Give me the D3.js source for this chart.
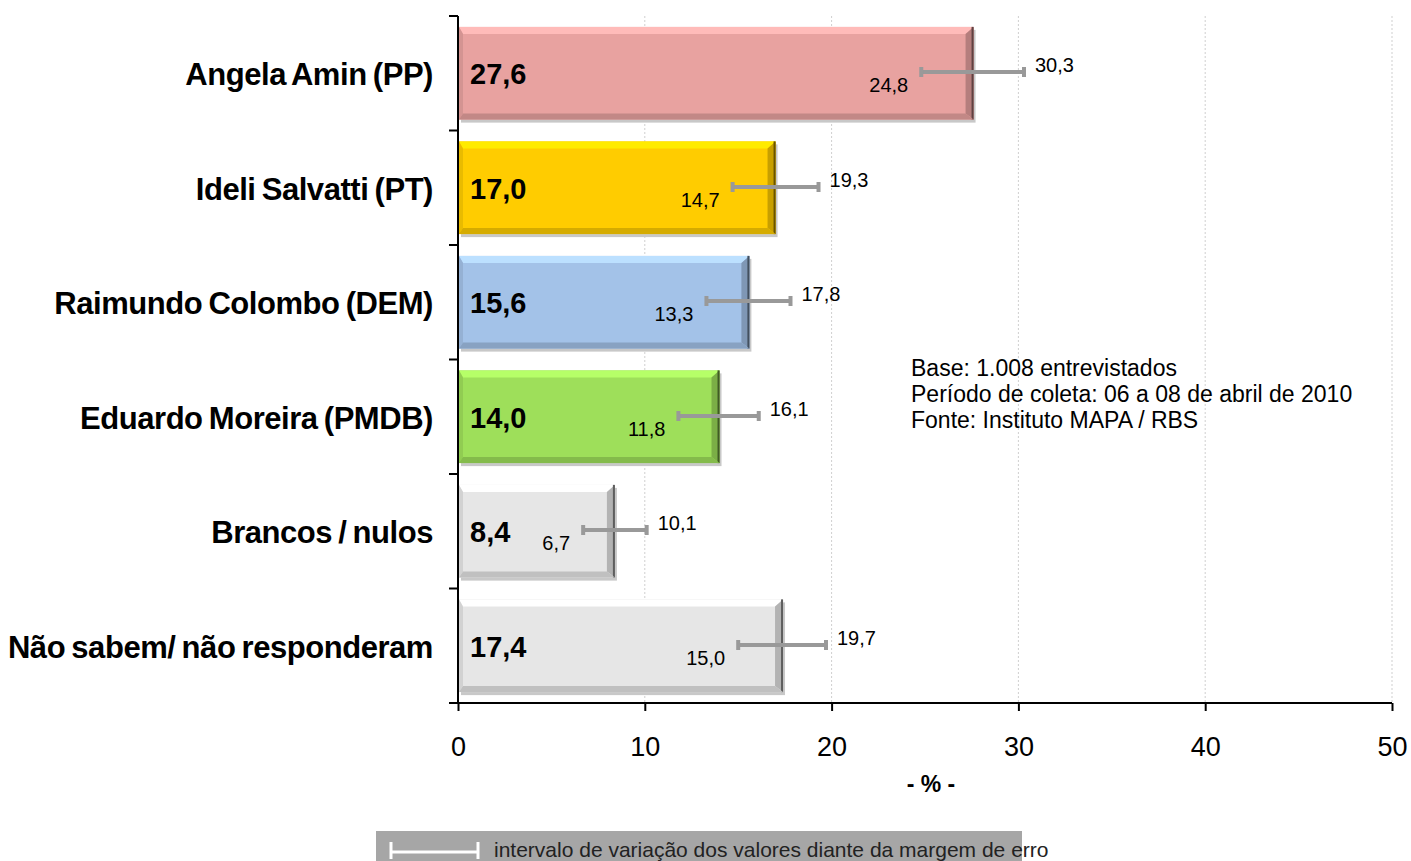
<!DOCTYPE html>
<html>
<head>
<meta charset="utf-8">
<script src="https://cdn.jsdelivr.net/npm/d3@7"></script>
<style>
  body { margin: 0; background: #fff; }
  text { font-family: "Liberation Sans", Arial, sans-serif; }
</style>
</head>
<body>
<svg id="chart" width="1411" height="861"></svg>
<script>
// chart data
let categories = ['Angela Amin (PP)', 'Ideli Salvatti (PT)', 'Raimundo Colombo (DEM)',
    'Eduardo Moreira (PMDB)', 'Brancos / nulos', 'Não sabem/ não responderam'];
let values = [27.6, 17.0, 15.6, 14.0, 8.4, 17.4];
let lows = [24.8, 14.7, 13.3, 11.8, 6.7, 15.0];
let highs = [30.3, 19.3, 17.8, 16.1, 10.1, 19.7];
let colors = ['#E8A2A0', '#FFCC00', '#A3C2E8', '#9EDF5A', '#E6E6E6', '#E6E6E6'];
let xTicks = [0, 10, 20, 30, 40, 50];
let notes = ['Base: 1.008 entrevistados', 'Período de coleta: 06 a 08 de abril de 2010',
    'Fonte: Instituto MAPA / RBS'];

let svg = d3.select('#chart');
let fmt = v => v.toFixed(1).replace('.', ',');

let x = d3.scaleLinear().domain([0, 50]).range([458, 1392]);
let y = d3.scaleBand().domain(categories).range([16, 703]).paddingInner(0.19).paddingOuter(0.095);
let yb = d3.scaleBand().domain(categories).range([16, 703]); // full bands for ticks

// dotted gridlines
svg.append('g').selectAll('line')
    .data(xTicks.slice(1))
    .join('line')
    .attr('x1', d => x(d)).attr('x2', d => x(d))
    .attr('y1', 16).attr('y2', 703)
    .attr('stroke', '#cfcfcf').attr('stroke-width', 1)
    .attr('stroke-dasharray', '2,2');

// bars with a bevelled look
let bars = svg.append('g').selectAll('g')
    .data(categories)
    .join('g');

bars.each(function(c, i) {
    let g = d3.select(this);
    let x0 = x(0) + 1, w = x(values[i]) - x(0) - 1;
    let y0 = y(c), h = y.bandwidth();
    let base = d3.color(colors[i]);
    // shadow
    g.append('rect').attr('x', x0 + 2).attr('y', y0 + 3).attr('width', w).attr('height', h)
        .attr('fill', '#c8c8c8');
    g.append('rect').attr('x', x0).attr('y', y0).attr('width', w).attr('height', h)
        .attr('fill', base);
    // top highlight
    g.append('path')
        .attr('d', `M${x0},${y0}H${x0 + w}l-8,7H${x0 + 4}Z`)
        .attr('fill', base.brighter(0.4));
    // left
    g.append('path')
        .attr('d', `M${x0},${y0}l4,7V${y0 + h - 6}l-4,6Z`)
        .attr('fill', base.darker(0.25));
    // right dark edge
    g.append('path')
        .attr('d', `M${x0 + w},${y0}V${y0 + h}l-8,-6V${y0 + 7}Z`)
        .attr('fill', base.darker(0.7));
    g.append('rect').attr('x', x0 + w - 2).attr('y', y0).attr('width', 2).attr('height', h)
        .attr('fill', base.darker(2.5));
    // bottom
    g.append('path')
        .attr('d', `M${x0},${y0 + h}H${x0 + w}l-8,-6H${x0 + 4}Z`)
        .attr('fill', base.darker(0.5));
});

// value labels
svg.append('g').selectAll('text')
    .data(categories)
    .join('text')
    .attr('x', 470)
    .attr('y', c => y(c) + y.bandwidth() / 2 + 11)
    .attr('font-size', 29).attr('font-weight', 'bold')
    .text((c, i) => fmt(values[i]));

// error bars
let err = svg.append('g');
categories.forEach(function(c, i) {
    let cy = Math.round(y(c) + y.bandwidth() / 2) - 1;
    err.append('line').attr('x1', x(lows[i])).attr('x2', x(highs[i]))
        .attr('y1', cy).attr('y2', cy)
        .attr('stroke', '#999').attr('stroke-width', 4);
    [lows[i], highs[i]].forEach(v => {
        err.append('line').attr('x1', x(v)).attr('x2', x(v))
            .attr('y1', cy - 5).attr('y2', cy + 5)
            .attr('stroke', '#999').attr('stroke-width', 4);
    });
    err.append('text').attr('x', x(lows[i]) - 13).attr('y', cy + 20)
        .attr('text-anchor', 'end').attr('font-size', 20)
        .text(fmt(lows[i]));
    err.append('text').attr('x', x(highs[i]) + 11).attr('y', cy)
        .attr('font-size', 20)
        .text(fmt(highs[i]));
});

// y axis
svg.append('line').attr('x1', 458).attr('x2', 458).attr('y1', 16).attr('y2', 703)
    .attr('stroke', '#000').attr('stroke-width', 2);
svg.append('g').selectAll('line')
    .data(d3.range(categories.length + 1))
    .join('line')
    .attr('x1', 449).attr('x2', 458)
    .attr('y1', d => 16 + d * yb.step()).attr('y2', d => 16 + d * yb.step())
    .attr('stroke', '#000').attr('stroke-width', 2);

svg.append('g').selectAll('text')
    .data(categories)
    .join('text')
    .attr('x', 433)
    .attr('y', c => y(c) + y.bandwidth() / 2 + 12)
    .attr('text-anchor', 'end')
    .attr('font-size', 31).attr('font-weight', 'bold')
    .attr('letter-spacing', -0.45).attr('word-spacing', -2)
    .text(c => c);

// x axis
let xAxis = d3.axisBottom(x).tickValues(xTicks).tickSize(8).tickPadding(26)
    .tickFormat(d3.format('d'));
let ax = svg.append('g').attr('transform', 'translate(0,703)').call(xAxis);
ax.select('.domain').attr('d', 'M449,0H1392').attr('stroke', '#000').attr('stroke-width', 2);
ax.selectAll('.tick line').attr('stroke', '#000').attr('stroke-width', 2);
ax.selectAll('.tick text').attr('font-size', 27).attr('fill', '#000')
    .attr('font-family', '"Liberation Sans", Arial, sans-serif');

svg.append('text').attr('x', 931).attr('y', 792).attr('text-anchor', 'middle')
    .attr('font-size', 23).attr('font-weight', 'bold').text('- % -');

// notes
svg.append('g').selectAll('text')
    .data(notes)
    .join('text')
    .attr('x', 911).attr('y', (d, i) => 376 + i * 26)
    .attr('font-size', 23)
    .text(d => d);

// legend
let lg = svg.append('g');
lg.append('rect').attr('x', 376).attr('y', 831).attr('width', 646).attr('height', 32)
    .attr('fill', '#A6A6A6');
lg.append('line').attr('x1', 391).attr('x2', 478).attr('y1', 852).attr('y2', 852)
    .attr('stroke', '#fff').attr('stroke-width', 3);
[391, 478].forEach(v => lg.append('line').attr('x1', v).attr('x2', v)
    .attr('y1', 842).attr('y2', 859).attr('stroke', '#fff').attr('stroke-width', 3));
lg.append('text').attr('x', 494).attr('y', 857).attr('font-size', 21).attr('fill', '#222')
    .text('intervalo de variação dos valores diante da margem de erro');
</script>
</body>
</html>
